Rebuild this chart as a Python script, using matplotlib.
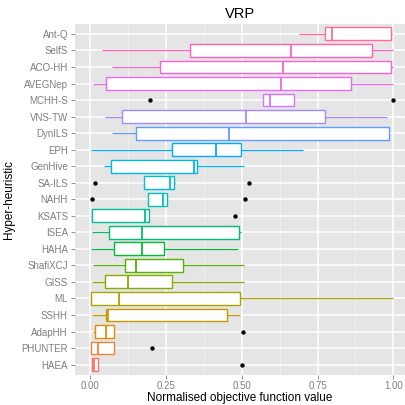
import numpy as np
import matplotlib
matplotlib.use("Agg")
import matplotlib.pyplot as plt
from matplotlib.patches import Rectangle

plt.rcParams['font.family'] = ['Liberation Sans', 'DejaVu Sans']

# categories bottom -> top
categories = ["HAEA", "PHUNTER", "AdapHH", "SSHH", "ML", "GISS", "ShafiXCJ", "HAHA",
              "ISEA", "KSATS", "NAHH", "SA-ILS", "GenHive", "EPH", "DynILS", "VNS-TW",
              "MCHH-S", "AVEGNep", "ACO-HH", "SelfS", "Ant-Q"]
whisk_lo = [0.007, 0.001, 0.008, 0.007, 0.003, 0.007, 0.009, 0.003, 0.007, 0.002,
            0.191, 0.178, 0.046, 0.001, 0.073, 0.048, 0.570, 0.008, 0.070, 0.037, 0.690]
q1 = [0.007, 0.001, 0.017, 0.052, 0.003, 0.050, 0.113, 0.078, 0.063, 0.007,
      0.191, 0.178, 0.067, 0.271, 0.151, 0.103, 0.570, 0.053, 0.231, 0.330, 0.774]
median = [0.012, 0.025, 0.053, 0.059, 0.095, 0.125, 0.150, 0.169, 0.172, 0.179,
          0.240, 0.264, 0.343, 0.414, 0.459, 0.515, 0.592, 0.629, 0.635, 0.662, 0.799]
q3 = [0.026, 0.079, 0.079, 0.450, 0.495, 0.271, 0.306, 0.244, 0.492, 0.195,
      0.252, 0.276, 0.353, 0.498, 0.987, 0.773, 0.671, 0.860, 0.991, 0.931, 0.991]
whisk_hi = [0.026, 0.079, 0.079, 0.494, 1.000, 0.507, 0.507, 0.487, 0.498, 0.195,
            0.254, 0.278, 0.507, 0.701, 0.987, 0.978, 0.671, 1.000, 0.998, 1.000, 0.995]
outliers = {"HAEA": [0.502], "PHUNTER": [0.205], "AdapHH": [0.505], "KSATS": [0.479],
            "NAHH": [0.004, 0.510], "SA-ILS": [0.017, 0.524], "MCHH-S": [0.198, 1.0]}
xticks = [0.0, 0.25, 0.5, 0.75, 1.0]
xticklabels = ["0.00", "0.25", "0.50", "0.75", "1.00"]


def hcl_to_rgb(h, c=100.0, l=65.0):
    hr = np.deg2rad(h)
    u, v = c * np.cos(hr), c * np.sin(hr)
    Xn, Yn, Zn = 95.047, 100.0, 108.883
    den = Xn + 15 * Yn + 3 * Zn
    un, vn = 4 * Xn / den, 9 * Yn / den
    Y = Yn * ((l + 16) / 116) ** 3
    up = u / (13 * l) + un
    vp = v / (13 * l) + vn
    X = 9 * Y * up / (4 * vp)
    Z = (12 - 3 * up - 20 * vp) * Y / (4 * vp)
    X, Y, Z = X / 100, Y / 100, Z / 100
    r = 3.2404542 * X - 1.5371385 * Y - 0.4985314 * Z
    g = -0.9692660 * X + 1.8760108 * Y + 0.0415560 * Z
    b = 0.0556434 * X - 0.2040259 * Y + 1.0572252 * Z
    out = []
    for ch in (r, g, b):
        ch = min(max(ch, 0), 1)
        ch = 12.92 * ch if ch <= 0.0031308 else 1.055 * ch ** (1 / 2.4) - 0.055
        out.append(min(max(ch, 0), 1))
    return tuple(out)


n = len(categories)
hues = np.linspace(15, 375 - 360 / n, n)
colors = [hcl_to_rgb(h) for h in hues]

fig = plt.figure(figsize=(4.05, 4.05), dpi=100)
bottom_px, top_px = 374.5, 24.0
ax = fig.add_axes([75 / 405, (405 - bottom_px) / 405, 330 / 405, (bottom_px - top_px) / 405])
ax.set_facecolor("#E5E5E5")
for s in ax.spines.values():
    s.set_visible(False)

ax.set_xlim(-0.0505, 1.0386)
ax.set_ylim(0.4, n + 0.6)

for xm in [0.125, 0.375, 0.625, 0.875]:
    ax.axvline(xm, color="#F2F2F2", lw=0.6, zorder=0)
for xt in xticks:
    ax.axvline(xt, color="white", lw=1.1, zorder=0)
for i in range(n):
    ax.axhline(i + 1, color="white", lw=1.1, zorder=0)

w = 0.78
for i, cat in enumerate(categories):
    y = i + 1
    col = colors[i]
    ax.plot([whisk_lo[i], q1[i]], [y, y], color=col, lw=0.9, zorder=2, solid_capstyle="butt")
    ax.plot([q3[i], whisk_hi[i]], [y, y], color=col, lw=0.9, zorder=2, solid_capstyle="butt")
    ax.add_patch(Rectangle((q1[i], y - w / 2), q3[i] - q1[i], w, facecolor="white",
                           edgecolor=col, lw=1.0, zorder=3))
    ax.plot([median[i], median[i]], [y - w / 2, y + w / 2], color=col, lw=1.3, zorder=4,
            solid_capstyle="butt")
    if cat in outliers:
        ov = outliers[cat]
        ax.scatter(ov, [y] * len(ov), s=10, color="black", zorder=5, linewidths=0)

ax.set_yticks(range(1, n + 1))
ax.set_yticklabels(categories)
ax.set_xticks(xticks)
ax.set_xticklabels(xticklabels)
ax.tick_params(axis="both", colors="#7F7F7F", labelcolor="#7F7F7F", labelsize=7.0,
               length=3, width=0.6)
ax.tick_params(axis="x", pad=1.5)
ax.tick_params(axis="y", pad=2)
ax.set_xlabel("Normalised objective function value", fontsize=8.5, color="black", labelpad=1)
ax.set_ylabel("Hyper-heuristic", fontsize=8.5, color="black")
ax.yaxis.set_label_coords(-60 / 330, 0.5)
ax.set_title("VRP", fontsize=10.5, color="black", pad=4)

fig.savefig("out.png", dpi=100)
